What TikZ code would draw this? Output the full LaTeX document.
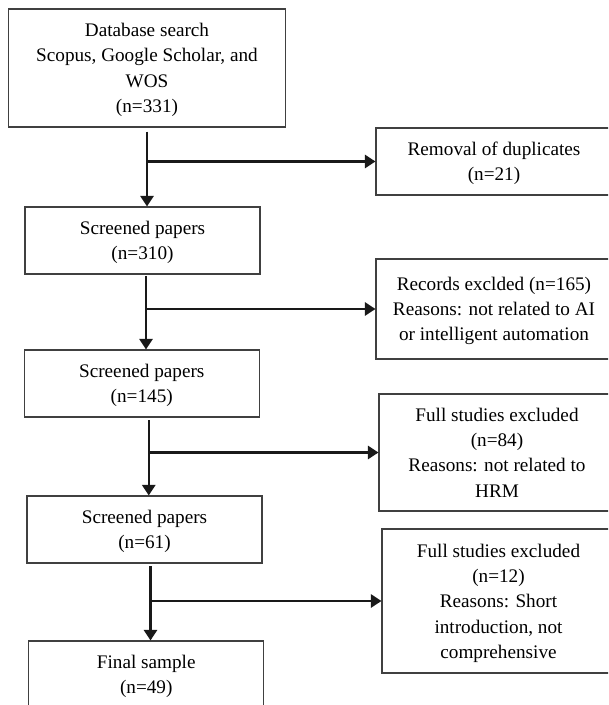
\documentclass[tikz,border=0pt]{standalone}
\usepackage{fontspec}
\setmainfont{Liberation Serif}
\usepackage{tikz}
\usetikzlibrary{arrows.meta,positioning,calc}
\newdimen\px
\px=0.75pt

\begin{document}
\begin{tikzpicture}[
    x=0.75pt, y=-0.75pt,
    box/.style={rectangle, draw=black!75, line width=0.8pt, inner sep=0pt, align=center,
        text depth=0pt, font=\fontsize{14.4}{19}\selectfont},
    arrow/.style={-{Triangle[length=8pt,width=10pt]}, line width=1.6pt, black!90}
]
    \useasboundingbox (0,0) rectangle (608,705);
    \clip (0,0) rectangle (608,705);

    % main column
    \node[box, minimum width=277\px, minimum height=118\px] (db) at (147,68)
        {Database search\\Scopus, Google Scholar, and\\WOS\\(n=331)};
    \node[box, minimum width=235\px, minimum height=67\px] (scr1) at (142.5,240.5)
        {Screened papers\\(n=310)};
    \node[box, minimum width=235\px, minimum height=67\px] (scr2) at (141.75,383.5)
        {Screened papers\\(n=145)};
    \node[box, minimum width=235\px, minimum height=67\px] (scr3) at (144.5,529.5)
        {Screened papers\\(n=61)};
    \node[box, minimum width=235\px, minimum height=67\px] (fin) at (146.25,674.5)
        {Final sample\\(n=49)};

    % excluded records
    \node[box, minimum width=236\px, minimum height=67\px] (rem) at (494,161.5)
        {Removal of duplicates\\(n=21)};
    \node[box, minimum width=236\px, minimum height=100\px] (rec) at (494,309)
        {Records exclded (n=165)\\Reasons: not related to AI\\or intelligent automation};
    \node[box, minimum width=236\px, minimum height=117\px] (full1) at (497,452.5)
        {Full studies excluded\\(n=84)\\Reasons: not related to\\HRM};
    \node[box, minimum width=233\px, minimum height=144\px] (full2) at (498.5,601)
        {Full studies excluded\\(n=12)\\Reasons: Short\\introduction, not\\comprehensive};

    \draw[arrow, shorten <=3pt] (db.south) -- (db.south |- scr1.north);
    \draw[arrow, shorten <=1pt] ([xshift=3.5\px]scr1.south) -- ([xshift=3.5\px]scr1.south |- scr2.north);
    \draw[arrow, shorten <=2pt] ([xshift=7\px]scr2.south) -- ([xshift=7\px]scr2.south |- scr3.north);
    \draw[arrow, shorten <=2pt] ([xshift=6\px]scr3.south) -- ([xshift=6\px]scr3.south |- fin.north);

    \draw[arrow] (db.south |- rem.west) -- (rem.west);
    \draw[arrow] ([xshift=3.5\px]scr1.south |- rec.west) -- (rec.west);
    \draw[arrow] ([xshift=7\px]scr2.south |- full1.west) -- (full1.west);
    \draw[arrow] ([xshift=6\px]scr3.south |- full2.west) -- (full2.west);
\end{tikzpicture}
\end{document}
